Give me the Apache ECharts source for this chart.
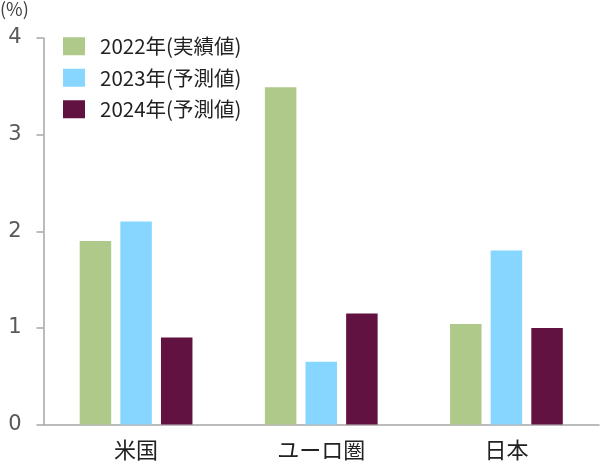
<!DOCTYPE html>
<html>
<head>
<meta charset="utf-8">
<script src="https://cdn.jsdelivr.net/npm/echarts@6/dist/echarts.min.js"></script>
<style>
  html, body { margin: 0; padding: 0; background: #fff; }
  #chart { width: 600px; height: 464px; }
</style>
</head>
<body>
<div id="chart"></div>
<script>
const categories = ['米国', 'ユーロ圏', '日本'];
const seriesNames = ['2022年(実績値)', '2023年(予測値)', '2024年(予測値)'];
const values2022 = [1.9, 3.49, 1.04];
const values2023 = [2.1, 0.65, 1.8];
const values2024 = [0.9, 1.15, 1.0];
const colors = ['#afc98b', '#86d6ff', '#621241'];

const chart = echarts.init(document.getElementById('chart'));
const font = '"Noto Sans CJK JP", "DejaVu Sans", sans-serif';

chart.setOption({
  animation: false,
  title: {
    text: '(%)',
    left: 0,
    top: 0,
    padding: 0,
    textStyle: { fontFamily: font, fontSize: 18, fontWeight: 'normal', color: '#404040' }
  },
  legend: {
    orient: 'vertical',
    left: 58,
    top: 31,
    itemWidth: 22,
    itemHeight: 18,
    itemGap: 11,
    icon: 'rect',
    data: seriesNames,
    textStyle: {
      fontFamily: font, fontSize: 20.5, color: '#222', lineHeight: 18,
      padding: [0, 0, 0, 10]
    }
  },
  grid: { left: 43.5, right: 1, top: 38, bottom: 39.5 },
  xAxis: {
    type: 'category',
    data: categories,
    axisLine: { lineStyle: { color: '#a6a6a6', width: 1.5 } },
    axisTick: { length: 7, lineStyle: { color: '#a6a6a6', width: 1.5 } },
    axisLabel: { fontFamily: font, fontSize: 22, color: '#222', margin: 14 }
  },
  yAxis: {
    type: 'value',
    min: 0,
    max: 4,
    interval: 1,
    splitLine: { show: false },
    axisLine: { show: true, lineStyle: { color: '#a6a6a6', width: 1.5 } },
    axisTick: { show: true, length: 7, lineStyle: { color: '#a6a6a6', width: 1.5 } },
    axisLabel: { fontFamily: '"DejaVu Sans", sans-serif', fontSize: 21, color: '#595959', margin: 22, padding: [0, 0, 6, 0] }
  },
  series: [values2022, values2023, values2024].map((vals, i) => ({
    name: seriesNames[i],
    type: 'bar',
    data: vals,
    barWidth: 31.5,
    barGap: '29%',
    itemStyle: { color: colors[i] }
  }))
});
</script>
</body>
</html>
